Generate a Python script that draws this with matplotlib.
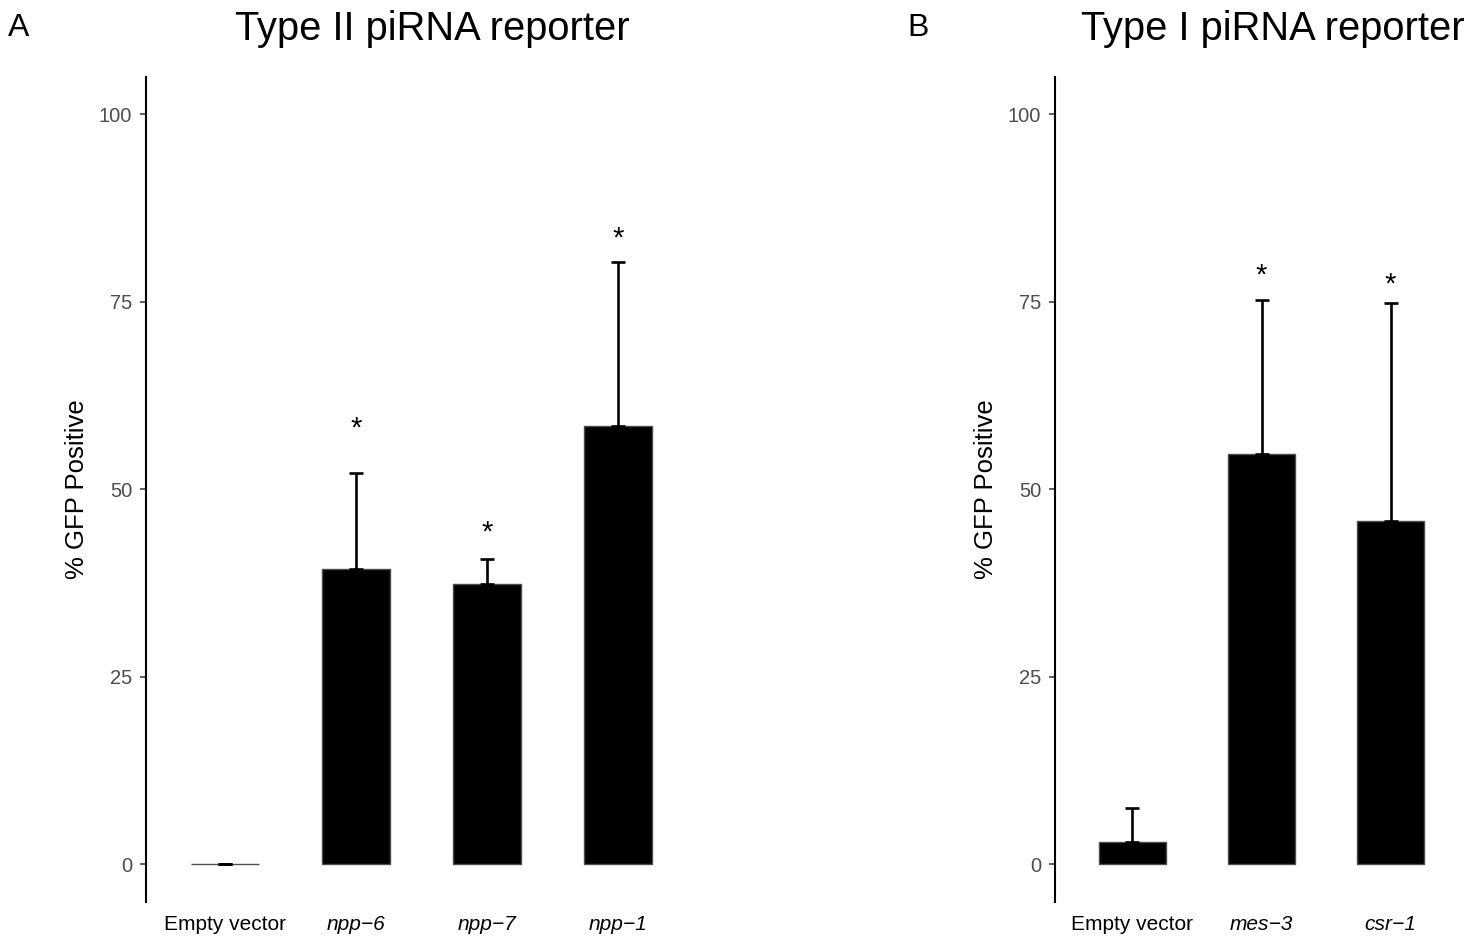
import matplotlib
matplotlib.use("Agg")
import matplotlib.pyplot as plt

plt.rcParams['font.family'] = ['Liberation Sans', 'DejaVu Sans']

# ---- data ----
cats_a = ["Empty vector", "npp\u22126", "npp\u22127", "npp\u22121"]
mean_a = [0.0, 39.3, 37.4, 58.4]
upper_a = [0.0, 52.1, 40.7, 80.3]
star_a = [None, 58.4, 44.6, 83.8]
italic_a = [False, True, True, True]

cats_b = ["Empty vector", "mes\u22123", "csr\u22121"]
mean_b = [2.9, 54.7, 45.8]
upper_b = [7.5, 75.2, 74.8]
star_b = [None, 78.8, 77.6]
italic_b = [False, True, True]

yticks = [0, 25, 50, 75, 100]

W, H = 1473, 944
fig = plt.figure(figsize=(W / 100, H / 100), dpi=100)


def panel(rect_px, cats, means, uppers, stars, italics, title, title_cx, letter, letter_cx, ylab_cx):
    l, r, t, b = rect_px
    ax = fig.add_axes([l / W, (H - b) / H, (r - l) / W, (b - t) / H])
    x = list(range(len(cats)))
    ax.bar(x, means, width=0.52, color='black', edgecolor='#4d4d4d', linewidth=1.0, zorder=2)
    lower = [0] * len(means)
    plus = [u - m for u, m in zip(uppers, means)]
    ax.errorbar(x, means, yerr=[lower, plus], fmt='none', ecolor='black',
                elinewidth=1.9, capsize=4.8, capthick=1.9, zorder=3)
    for xi, s in zip(x, stars):
        if s is not None:
            ax.annotate('*', xy=(xi, s), xytext=(0, -7.5), textcoords='offset points',
                        ha='center', va='baseline', fontsize=21, color='black')
    ax.set_xlim(-0.6, len(cats) - 0.4)
    ax.set_ylim(-5, 105)
    ax.set_yticks(yticks)
    ax.set_yticklabels([str(v) for v in yticks])
    ax.set_xticks(x)
    ax.set_xticklabels(cats)
    for lab, it in zip(ax.get_xticklabels(), italics):
        if it:
            lab.set_fontstyle('italic')
    ax.tick_params(axis='y', length=4.4, width=1.1, color='#333333', labelsize=14.5,
                   labelcolor='#4d4d4d', pad=5.5)
    ax.tick_params(axis='x', length=0, labelsize=15, labelcolor='black', pad=9.5)
    for sp in ['top', 'right', 'bottom']:
        ax.spines[sp].set_visible(False)
    ax.spines['left'].set_linewidth(1.5)
    ax.spines['left'].set_color('black')
    fig.text(title_cx / W, 1 - 39.5 / H, title, ha='center', va='baseline', fontsize=28.7)
    fig.text(letter_cx / W, 1 - 36 / H, letter, ha='center', va='baseline', fontsize=23)
    fig.text(ylab_cx / W, 1 - 489 / H, '% GFP Positive', rotation=90, ha='center', va='center',
             fontsize=18.5)
    return ax


panel((146, 696.5, 76.7, 901.7), cats_a, mean_a, upper_a, star_a, italic_a,
      'Type II piRNA reporter', 432.5, 'A', 19, 77.5)
panel((1055, 1468, 76.7, 901.7), cats_b, mean_b, upper_b, star_b, italic_b,
      'Type I piRNA reporter', 1272.5, 'B', 918, 986.5)

fig.savefig('out.png', dpi=100)
